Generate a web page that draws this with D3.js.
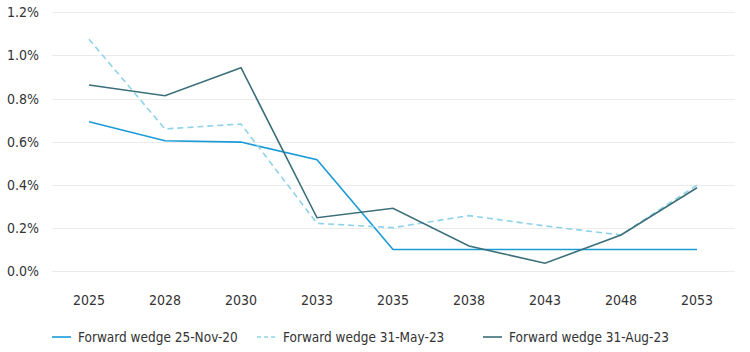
<!DOCTYPE html>
<html>
<head>
<meta charset="utf-8">
<script src="https://cdn.jsdelivr.net/npm/d3@7"></script>
<style>
  body { margin: 0; background: #fff; }
  svg text { font-family: "DejaVu Sans Condensed", "DejaVu Sans", sans-serif; font-stretch: condensed; fill: #333; }
</style>
</head>
<body>
<div id="chart"></div>
<script>
// chart data
var years = ["2025", "2028", "2030", "2033", "2035", "2038", "2043", "2048", "2053"];
var wedgeNov20 = [0.692, 0.604, 0.598, 0.516, 0.10, 0.10, 0.10, 0.10, 0.10];
var wedgeMay23 = [1.075, 0.659, 0.682, 0.221, 0.201, 0.257, 0.209, 0.167, 0.399];
var wedgeAug23 = [0.863, 0.813, 0.943, 0.247, 0.291, 0.116, 0.036, 0.167, 0.386];
var yTicks = [0, 0.2, 0.4, 0.6, 0.8, 1.0, 1.2];
var seriesNames = ["Forward wedge 25-Nov-20", "Forward wedge 31-May-23", "Forward wedge 31-Aug-23"];

var series = [
  { name: seriesNames[0], values: wedgeNov20, color: "#1a9bd7", dash: null },
  { name: seriesNames[1], values: wedgeMay23, color: "#8ed3e8", dash: "6,4" },
  { name: seriesNames[2], values: wedgeAug23, color: "#3b6f79", dash: null }
];

var svgWidth = 750;
var svgHeight = 352;

var svg = d3.select("#chart")
  .append("svg")
  .attr("width", svgWidth)
  .attr("height", svgHeight);

// scales
var xScale = d3.scaleBand()
  .domain(years)
  .range([51, 735])
  .padding(0);

var yScale = d3.scaleLinear()
  .domain([0, 1.2])
  .range([271, 12.3]);

// gridlines
svg.append("g")
  .selectAll("line")
  .data(yTicks)
  .enter()
  .append("line")
  .attr("x1", 52)
  .attr("x2", 735)
  .attr("y1", d => Math.round(yScale(d)) + 0.5)
  .attr("y2", d => Math.round(yScale(d)) + 0.5)
  .attr("stroke", "#ebebeb")
  .attr("stroke-width", 1);

// y axis labels
var leftAxis = d3.axisLeft(yScale)
  .tickValues(yTicks)
  .tickSize(0)
  .tickPadding(0)
  .tickFormat(d => d3.format(".1f")(d) + "%");

var yAxisG = svg.append("g")
  .attr("transform", "translate(39,0)")
  .call(leftAxis);
yAxisG.select(".domain").remove();
yAxisG.selectAll("text")
  .attr("font-size", 14);

// x axis labels
var bottomAxis = d3.axisBottom(xScale).tickSize(0).tickPadding(0);
var xAxisG = svg.append("g")
  .attr("transform", "translate(0,294)")
  .call(bottomAxis);
xAxisG.select(".domain").remove();
xAxisG.selectAll("text")
  .attr("font-size", 14)
  .attr("dy", "0.8em");

// lines
var lineGen = d3.line()
  .x((d, i) => xScale(years[i]) + xScale.bandwidth() / 2)
  .y(d => yScale(d));

svg.append("g")
  .selectAll("path")
  .data(series)
  .enter()
  .append("path")
  .attr("d", d => lineGen(d.values))
  .attr("fill", "none")
  .attr("stroke", d => d.color)
  .attr("stroke-width", 1.6)
  .attr("stroke-dasharray", d => d.dash);

// legend
var legendX = [52, 257, 483];
var legend = svg.append("g")
  .selectAll("g")
  .data(series)
  .enter()
  .append("g")
  .attr("transform", (d, i) => `translate(${legendX[i]}, 337)`);

legend.append("line")
  .attr("x1", 0)
  .attr("x2", 19)
  .attr("y1", 0)
  .attr("y2", 0)
  .attr("stroke", d => d.color)
  .attr("stroke-width", 1.6)
  .attr("stroke-dasharray", d => d.dash ? "4,3" : null);

legend.append("text")
  .attr("x", 26)
  .attr("y", 0)
  .attr("dy", "0.35em")
  .attr("font-size", 13.5)
  .text(d => d.name);
</script>
</body>
</html>
